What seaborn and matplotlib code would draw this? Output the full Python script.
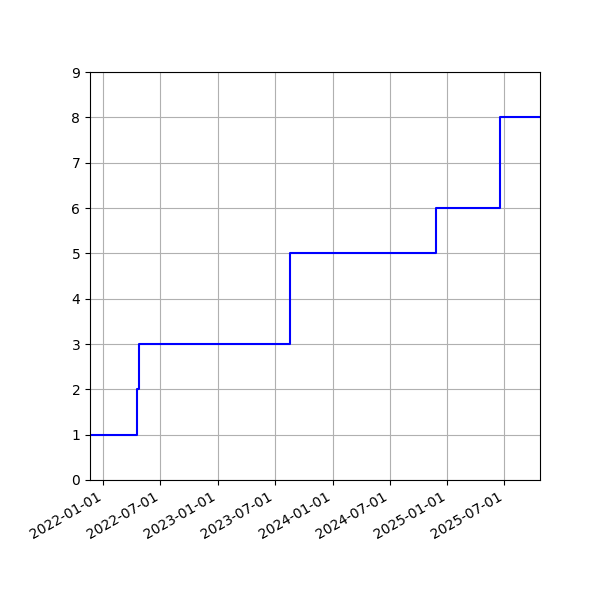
import matplotlib
matplotlib.use("Agg")
import matplotlib.pyplot as plt
import matplotlib.dates as mdates
import pandas as pd
import seaborn as sns

# step dates and running count
dates = ["2021-11-19", "2022-04-18", "2022-04-25", "2023-08-19",
         "2024-11-24", "2025-06-17", "2025-10-23"]
counts = [1, 2, 3, 5, 6, 8, 8]

df = pd.DataFrame({"date": pd.to_datetime(dates), "count": counts})

fig, ax = plt.subplots(figsize=(6, 6), dpi=100)
sns.lineplot(data=df, x="date", y="count", ax=ax, color="blue",
             drawstyle="steps-post", linewidth=1.5)

ax.set_xlim(df["date"].min(), df["date"].max())
ax.set_ylim(0, 9)
ax.xaxis.set_major_locator(mdates.MonthLocator(bymonth=[1, 7]))
ax.xaxis.set_major_formatter(mdates.DateFormatter("%Y-%m-%d"))
ax.set_xlabel("")
ax.set_ylabel("")
ax.grid(True)
fig.autofmt_xdate()
fig.subplots_adjust(left=0.15, right=0.9, top=0.88, bottom=0.2)

fig.savefig("out.png")
